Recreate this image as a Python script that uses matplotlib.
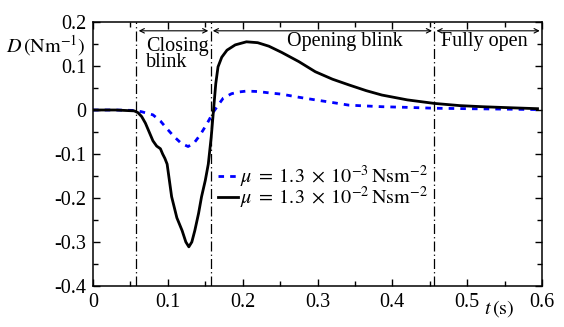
import matplotlib
matplotlib.use("Agg")
import matplotlib.pyplot as plt
import numpy as np
from matplotlib.ticker import MultipleLocator

plt.rcParams['font.family'] = ['Liberation Serif', 'DejaVu Serif']
plt.rcParams['mathtext.fontset'] = 'stix'
plt.rcParams['axes.unicode_minus'] = False

# Data
t_hi = [0.0, 0.03, 0.055, 0.06, 0.065, 0.07, 0.075, 0.08, 0.085, 0.09, 0.093, 0.096, 0.099,
        0.105, 0.112, 0.119, 0.124, 0.128, 0.132, 0.136, 0.141, 0.145, 0.15, 0.154, 0.158,
        0.161, 0.164, 0.167, 0.172, 0.179, 0.19, 0.205, 0.22, 0.235, 0.252, 0.275, 0.297,
        0.32, 0.342, 0.365, 0.386, 0.42, 0.456, 0.49, 0.52, 0.56, 0.594]
D_hi = [0.0, 0.0, -0.002, -0.006, -0.015, -0.03, -0.05, -0.07, -0.082, -0.088, -0.1, -0.11, -0.123,
        -0.197, -0.245, -0.274, -0.3, -0.311, -0.3, -0.274, -0.235, -0.197, -0.16, -0.123, -0.06,
        0.0, 0.06, 0.098, 0.12, 0.136, 0.148, 0.155, 0.153, 0.145, 0.131, 0.11, 0.087,
        0.07, 0.057, 0.044, 0.034, 0.023, 0.015, 0.01, 0.0075, 0.005, 0.003]

t_lo = [0.0, 0.03, 0.055, 0.065, 0.08, 0.09, 0.098, 0.108, 0.118, 0.127, 0.135, 0.143,
        0.152, 0.161, 0.168, 0.174, 0.185, 0.195, 0.205, 0.22, 0.235, 0.252, 0.275, 0.297,
        0.32, 0.342, 0.386, 0.42, 0.456, 0.5, 0.55, 0.594]
D_lo = [0.0, 0.0, -0.001, -0.004, -0.011, -0.025, -0.041, -0.06, -0.076, -0.083, -0.075, -0.057,
        -0.032, -0.004, 0.013, 0.027, 0.037, 0.041, 0.043, 0.042, 0.039, 0.036, 0.029, 0.023,
        0.017, 0.011, 0.0075, 0.006, 0.004, 0.003, 0.002, 0.001]

phase_bounds = [0.058, 0.157, 0.456, 0.6]
phase_labels = ["Closing\nblink", "Opening blink", "Fully open"]
label_lo = r"$\mu\;=\;1.3\;\times\;10^{-3}\,\mathrm{Nsm}^{-2}$"
label_hi = r"$\mu\;=\;1.3\;\times\;10^{-2}\,\mathrm{Nsm}^{-2}$"

FS = 14.5

fig = plt.figure(figsize=(5.64, 3.27), dpi=100)
ax = fig.add_axes([0.165, 0.1254, 0.796, 0.8073])

ax.plot(t_lo, D_lo, color='#0000ff', lw=2.0, linestyle=(0, (2, 2.2)), label=label_lo)
ax.plot(t_hi, D_hi, color='black', lw=2.0, label=label_hi)

for xb in phase_bounds[:3]:
    ax.axvline(xb, color='black', lw=0.9, linestyle=(0, (8, 2.5, 1, 2.5)))

ya = 0.18
for a, b in zip(phase_bounds[:-1], phase_bounds[1:]):
    ax.annotate('', xy=(a + 0.003, ya), xytext=(b - 0.003, ya),
                arrowprops=dict(arrowstyle='<->', lw=0.8, color='black',
                                shrinkA=0, shrinkB=0, mutation_scale=8))

ax.text(0.0705, 0.126, phase_labels[0], fontsize=FS, ha='left', va='center', linespacing=0.8)
ax.text(0.336, 0.155, phase_labels[1], fontsize=FS, ha='center', va='center')
ax.text(0.523, 0.155, phase_labels[2], fontsize=FS, ha='center', va='center')

ax.set_xlim(0, 0.6)
ax.set_ylim(-0.4, 0.2)
ax.xaxis.set_minor_locator(MultipleLocator(0.05))
ax.yaxis.set_minor_locator(MultipleLocator(0.05))
ax.set_xticks([0, 0.1, 0.2, 0.3, 0.4, 0.5, 0.6])
ax.set_xticklabels(['0', '0.1', '0.2', '0.3', '0.4', '0.5', '0.6'])
ax.set_yticks([-0.4, -0.3, -0.2, -0.1, 0, 0.1, 0.2])
ax.set_yticklabels(['-0.4', '-0.3', '-0.2', '-0.1', '0', '0.1', '0.2'])
ax.tick_params(which='both', direction='in', top=True, right=True, labelsize=FS, width=1.0)
ax.tick_params(which='major', length=5, pad=5)
ax.tick_params(which='minor', length=3.5)
for s in ax.spines.values():
    s.set_linewidth(1.1)

fig.text(0.010, 0.862, r"$D\,(\mathrm{Nm}^{-1})$", fontsize=FS, ha='left', va='center')
fig.text(0.858, 0.058, r"$t\,(\mathrm{s})$", fontsize=FS, ha='left', va='center')

ax.legend(loc='upper left', bbox_to_anchor=(0.279, 0.464), frameon=False, fontsize=FS,
          handlelength=1.0, handletextpad=0.1, labelspacing=-0.25, borderpad=0, borderaxespad=0)

fig.savefig('out.png', dpi=100)
